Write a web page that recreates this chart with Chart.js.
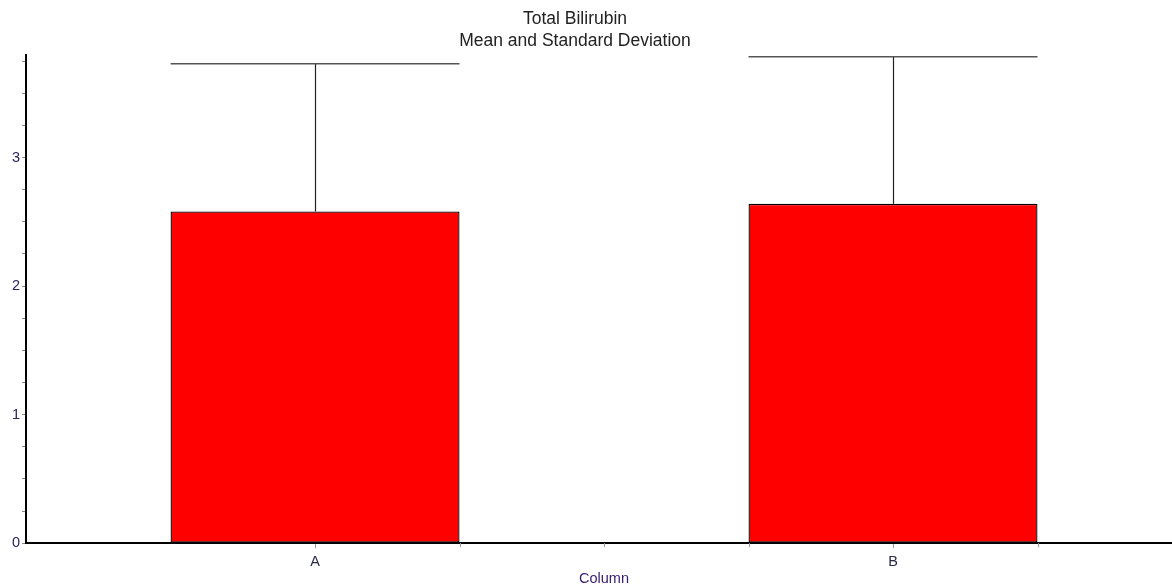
<!DOCTYPE html>
<html>
<head>
<meta charset="utf-8">
<script src="https://cdn.jsdelivr.net/npm/chart.js@4/dist/chart.umd.min.js"></script>
<style>
  html, body { margin: 0; padding: 0; background: #fff; overflow: hidden; }
  #wrap { width: 1172px; height: 585px; overflow: hidden; position: relative; }
  #box { width: 1182px; height: 585px; }
</style>
</head>
<body>
<div id="wrap"><div id="box"><canvas id="c"></canvas></div></div>
<script>
// Group labels and summary statistics
const categories = ['A', 'B'];
const means = [2.58, 2.64];
const stdDevs = [1.15, 1.145];
const yTicks = [0, 1, 2, 3];

const titleLines = ['Total Bilirubin', 'Mean and Standard Deviation'];
const xTitle = 'Column';
const FONT = 'Liberation Sans, Arial, sans-serif';

// Keep the title centred on the visible page width
const titleCentre = {
  id: 'titleCentre',
  afterLayout(chart) {
    const t = chart.titleBlock;
    if (t) { t.left = 0; t.right = 1150; }
  }
};

// Upper standard-deviation whiskers plus minor x tick marks
const errorBars = {
  id: 'errorBars',
  afterDatasetsDraw(chart) {
    const ctx = chart.ctx;
    const xs = chart.scales.x, ys = chart.scales.y;
    const meta = chart.getDatasetMeta(0);
    ctx.save();
    meta.data.forEach((bar, i) => {
      const half = bar.width / 2;
      const yTop = ys.getPixelForValue(means[i] + stdDevs[i]);
      const yMean = ys.getPixelForValue(means[i]);
      ctx.lineWidth = 1.2;
      ctx.strokeStyle = '#222';
      ctx.beginPath();
      ctx.moveTo(Math.round(bar.x) + 0.5, yMean);
      ctx.lineTo(Math.round(bar.x) + 0.5, yTop);
      ctx.stroke();
      ctx.strokeStyle = '#555';
      ctx.lineWidth = 1.6;
      ctx.beginPath();
      ctx.moveTo(bar.x - half, yTop);
      ctx.lineTo(bar.x + half, yTop);
      ctx.stroke();
    });
    // minor ticks on the category axis
    const step = xs.getPixelForValue(1) - xs.getPixelForValue(0);
    ctx.strokeStyle = '#999';
    ctx.lineWidth = 1;
    const y0 = xs.top;
    const marks = [];
    for (let i = 0; i < categories.length; i++) {
      const c = xs.getPixelForValue(i);
      marks.push(c + step / 4);
      if (i > 0) marks.push(c - step / 4);
    }
    marks.push(xs.getPixelForValue(0) + step / 2);
    marks.forEach(x => {
      ctx.beginPath();
      ctx.moveTo(Math.round(x) + 0.5, y0);
      ctx.lineTo(Math.round(x) + 0.5, y0 + 4);
      ctx.stroke();
    });
    ctx.restore();
  }
};

new Chart(document.getElementById('c'), {
  type: 'bar',
  data: {
    labels: categories,
    datasets: [{
      data: means,
      backgroundColor: '#ff0000',
      borderColor: '#000',
      borderWidth: 1.3,
      borderSkipped: false,
      barPercentage: 0.5,
      categoryPercentage: 1.0
    }]
  },
  options: {
    responsive: true,
    maintainAspectRatio: false,
    animation: false,
    layout: { padding: { left: 10, right: 0, top: 0, bottom: 4 } },
    plugins: {
      legend: { display: false },
      tooltip: { enabled: false },
      title: {
        display: true,
        text: titleLines,
        color: '#222',
        font: { family: FONT, size: 17.5, weight: 'normal', lineHeight: 1.25 },
        padding: { top: 8, bottom: 3 }
      }
    },
    scales: {
      x: {
        type: 'category',
        offset: true,
        grid: {
          offset: false,
          drawOnChartArea: false,
          drawTicks: true,
          tickLength: 5,
          color: '#999'
        },
        border: { display: true, color: '#000', width: 2 },
        ticks: {
          color: '#2a2a4a',
          font: { family: FONT, size: 14.5, lineHeight: 1.0 },
          padding: 7
        },
        title: {
          display: true,
          text: xTitle,
          color: '#3a2070',
          font: { family: FONT, size: 14.5, lineHeight: 0.3 },
          padding: { top: 0, bottom: 0 }
        }
      },
      y: {
        min: 0,
        max: 3.8,
        grid: {
          drawOnChartArea: false,
          drawTicks: true,
          tickLength: 4,
          color: '#888'
        },
        border: { display: true, color: '#000', width: 2 },
        afterBuildTicks(axis) {
          const t = [];
          for (let v = 0; v <= 3.75 + 1e-9; v += 0.25) t.push({ value: v });
          axis.ticks = t;
        },
        ticks: {
          autoSkip: false,
          color: '#302060',
          font: { family: FONT, size: 14.5 },
          padding: 2,
          callback(v) {
            return yTicks.includes(v) ? String(v) : '';
          }
        }
      }
    }
  },
  plugins: [titleCentre, errorBars]
});
</script>
</body>
</html>
